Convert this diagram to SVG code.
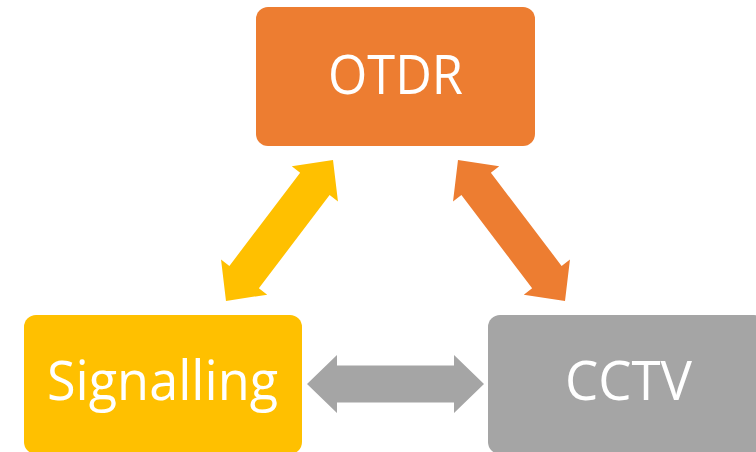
<svg xmlns="http://www.w3.org/2000/svg" width="756" height="452" viewBox="0 0 756 452">
  <style>
    .box { stroke: none; }
    .label { font-family: "Open Sans", "Liberation Sans", sans-serif; font-size: 54px; fill: #ffffff; text-anchor: middle; }
  </style>
  <defs>
    <!-- double-headed block arrow, centred on the origin, 177px long -->
    <path id="dblArrow" d="M -88.5 0 L -58.5 -29 L -58.5 -18.5 L 58.5 -18.5 L 58.5 -29 L 88.5 0 L 58.5 29 L 58.5 18.5 L -58.5 18.5 L -58.5 29 Z"/>
  </defs>

  <rect width="756" height="452" fill="#ffffff"/>

  <g id="connectors">
    <use href="#dblArrow" fill="#FFC000" transform="translate(279.5 230.5) rotate(-52.8)"/>
    <use href="#dblArrow" fill="#ED7D31" transform="translate(511.5 230.5) rotate(52.8)"/>
    <use href="#dblArrow" fill="#A5A5A5" transform="translate(395.5 384)"/>
  </g>

  <g id="otdr">
    <rect class="box" x="256" y="7" width="279" height="139" rx="12" fill="#ED7D31"/>
    <text class="label" x="395.5" y="94" textLength="135" lengthAdjust="spacingAndGlyphs">OTDR</text>
  </g>

  <g id="signalling">
    <rect class="box" x="24" y="315" width="278" height="139" rx="12" fill="#FFC000"/>
    <text class="label" x="162.5" y="400" textLength="231" lengthAdjust="spacingAndGlyphs">Signalling</text>
  </g>

  <g id="cctv">
    <rect class="box" x="488" y="315" width="278" height="139" rx="12" fill="#A5A5A5"/>
    <text class="label" x="628.5" y="400" textLength="127" lengthAdjust="spacingAndGlyphs">CCTV</text>
  </g>
</svg>
